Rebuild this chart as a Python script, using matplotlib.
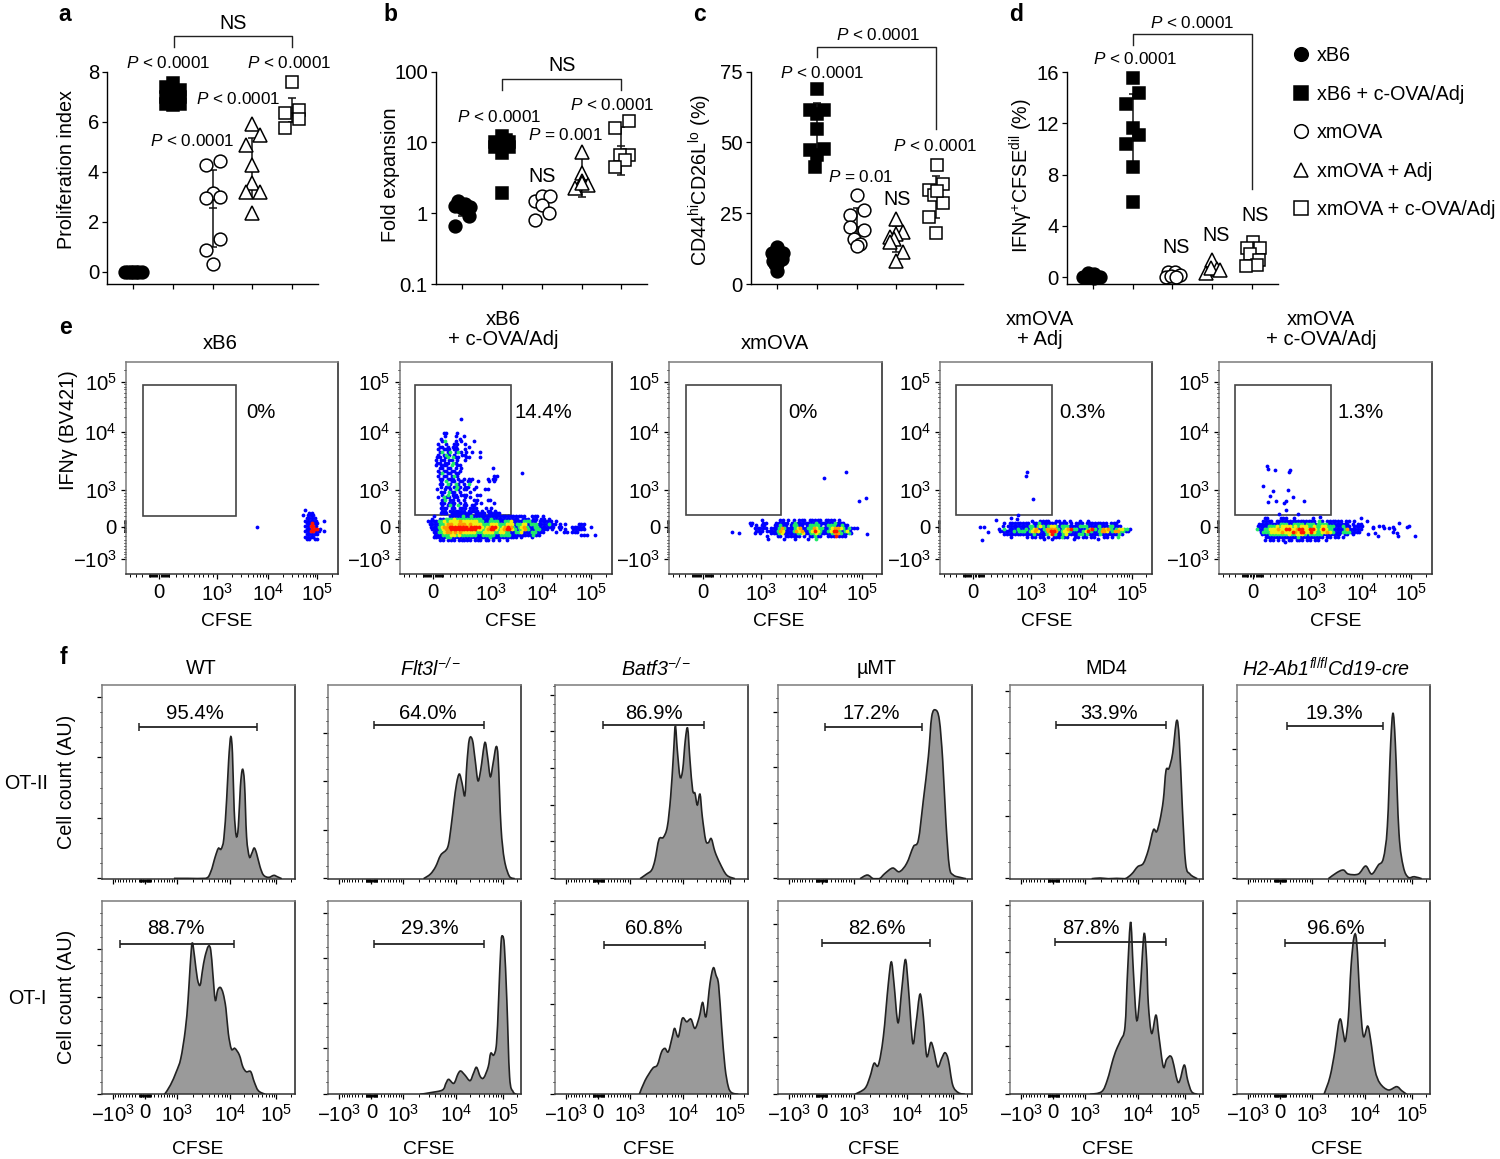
import numpy as np
import matplotlib
matplotlib.use('Agg')
import matplotlib.pyplot as plt
from matplotlib.lines import Line2D
from matplotlib.patches import Rectangle, PathPatch
from matplotlib.path import Path

plt.rcParams.update({
    'font.family': ['Liberation Sans', 'DejaVu Sans'],
    'mathtext.fontset': 'custom',
    'mathtext.rm': 'Liberation Sans',
    'mathtext.it': 'Liberation Sans:italic',
    'mathtext.bf': 'Liberation Sans:bold',
    'mathtext.default': 'regular',
    'font.size': 14.2,
})

W, H = 1500, 1159
FS = 14.2

# ---------- panels a-d: summary dot plots ----------
group_names = ['xB6', 'xB6 + c-OVA/Adj', 'xmOVA', 'xmOVA + Adj', 'xmOVA + c-OVA/Adj']
group_markers = ['o', 's', 'o', '^', 's']
group_filled = [True, True, False, False, False]

a_vals = [[0, 0, 0, 0, 0, 0, 0],
          [7.53, 7.37, 7.27, 7.0, 7.0, 7.07, 6.71, 6.71, 6.67],
          [4.43, 4.27, 3.13, 2.96, 3.0, 1.29, 0.87, 0.29],
          [5.91, 5.47, 5.07, 4.27, 3.56, 3.2, 3.2, 2.33],
          [7.6, 6.36, 6.45, 6.09, 5.73]]
a_off = [[-.21, -.13, -.07, 0, .07, .13, .21],
         [0, -.17, .17, -.17, .17, 0, -.17, .17, 0],
         [.18, -.17, 0, -.17, .18, .18, -.17, 0],
         [0, .18, -.17, 0, 0, -.17, .18, 0],
         [0, -.17, .17, .17, -.17]]
a_err = [None, None, (1.0, 2.53, 4.07), (2.93, 4.13, 5.33), (6.0, 6.35, 6.93)]

b_vals = [[1.47, 1.36, 1.27, 1.22, 1.18, 0.9, 0.67],
          [12.2, 10.3, 10.3, 8.5, 8.5, 7.2, 11, 1.95],
          [1.5, 1.73, 1.73, 1.31, 1.02, 0.79],
          [7.4, 3.72, 2.83, 2.27, 2.54, 2.68],
          [20.3, 16, 6.6, 6.6, 5.65, 4.5]]
b_off = [[-.1, .07, -.18, .19, 0, .18, -.17],
         [0, -.17, .17, -.17, .17, 0, .1, 0],
         [-.17, 0, .21, 0, .17, -.17],
         [0, 0, 0, -.17, .17, 0],
         [.18, -.17, .18, -.04, .08, -.17]]
b_err = [(0.9, 1.1, 1.3), None, None, (1.69, 2.83, 6.2), (3.5, 8.9, 16.4)]

c_vals = [[13, 11, 11, 10.6, 8.3, 8.9, 7.1, 7.1, 4.7],
          [68.9, 61.6, 61.6, 60.2, 54.9, 47.2, 47.8, 45.5, 41.3],
          [31.3, 26.2, 24.4, 19.1, 20.3, 15.9, 14.2, 13.6],
          [23, 18.3, 17.7, 16.5, 15.9, 14.8, 11.2, 8.3],
          [42.1, 35.4, 33.1, 31.3, 28.6, 23.8, 17.9, 32.8]]
c_off = [[0, -.14, .15, 0, -.1, .11, 0, -.06, 0],
         [0, -.18, .18, 0, 0, -.18, .18, 0, -.05],
         [0, .18, -.17, .18, -.18, -.08, .08, 0],
         [0, .17, 0, -.17, -.07, -.17, .17, 0],
         [.02, .18, -.17, -.05, .18, -.17, 0, .03]]
c_err = [None, (45.5, 54.5, 63.8), (14, 20, 27), (11.2, 14.8, 20.4), (23.4, 30.7, 38)]

d_vals = [[.31, .26, .05, .05, .05, -.08, 0],
          [15.5, 14.4, 13.5, 11.6, 11.1, 10.4, 8.6, 5.9],
          [.44, .44, .18, 0, .1, .05],
          [1.35, .62, .36, .7, .57],
          [2.78, 2.26, 2.26, 1.82, 1.35, .96, .88]]
d_off = [[-.11, .02, -.24, -.07, .18, .02, -.15],
         [0, .17, -.17, 0, .17, -.17, 0, 0],
         [-.11, .06, .18, -.17, -.03, .1],
         [0, .11, -.17, -.04, .19],
         [.01, -.14, .2, -.05, .18, .12, -.16]]
d_err = [None, (8.6, 11.9, 14.3), None, None, None]

a_ticks = [0, 2, 4, 6, 8]
b_ticks = [0.1, 1, 10, 100]
b_ticklabels = ['0.1', '1', '10', '100']
c_ticks = [0, 25, 50, 75]
d_ticks = [0, 4, 8, 12, 16]

# ---------- panel e: flow dot plots (density class per cell) ----------
e_names = ['xB6', 'xB6\n+ c-OVA/Adj', 'xmOVA', 'xmOVA\n+ Adj', 'xmOVA\n+ c-OVA/Adj']
e_pcts = ['0%', '14.4%', '0%', '0.3%', '1.3%']
e_x_tick_vals = [100, 274, 427, 575]
e_x_tick_labels = ['0', '10$^3$', '10$^4$', '10$^5$']
e_y_tick_vals = [44, 142, 252, 427, 577]
e_y_tick_labels = ['\u221210$^3$', '0', '10$^3$', '10$^4$', '10$^5$']
e_gates = [(53, 173, 332, 568), (47, 177, 334, 568), (49, 177, 335, 567),
           (47, 177, 335, 567), (47, 177, 335, 567)]

e1_rows = ["...b.......", "....bb.....", "..b.bbb....", "...bbbb....", "...bbbbb..b",
           "...bbrbb...", "...bbrrb...", "...bbrrrb..", "...bbrrbb.b", "...bbbbb...",
           "...bbbb....", "...bb.bb..."]
e1_origin = (515, 192)
e1_extra = [(394, 140)]

e2_cloud = ["....bb...b......", "....b...b..b....", "...b......b.....", "...bg...b.b....b",
            "..b..b..bb..b...", "..bb.b.bb....b..", "..b.bbb.bb..b...", "..bg.bg.bgb.b.b..b",
            "..b.bgb.b..bb...", ".bb.bg.gbb..bb...b", ".b.bb.bb.b..b...", ".bb.bb.gb.......",
            ".b.bbb.g.bb.....", "..bb.bb.b.b...........b", "..b.bb.bb.b.....",
            "..bg.bb.bb.......................b", "..b.bb.bgb.............bb",
            "..bb.bbb.b.b.bb.....b.bb", "...b.g.bb.bb.bb..b...b.b", "..bb.gb.gb.b.g..",
            "...b.bb.bgb.bb..b", ".b..b.b.gb.bb..b...bb", "...bb.gbb.b...b.",
            "...b.g.bb.bbb...bb", "..b.gbb.bb..b.b.", "...bg.bb.b.b...bb...bb",
            "...bb.bbb.b.b...b.b....b", "...b.bgb.g.bb.bb", "...bbb.bb.bbb.bbb...b.b",
            "...bb.bbbbbb.bbbb.b.bb.b", "...bbb.bbbbbbbb.bbbb.bbbbb"]
e2_cloud_origin = (100, 422)
e2_band = ["..b.....bbbbbgbbgbbbbbbbbbbbbbbbbbbbb..bbb.b",
           ".b..bbgggyggggggggggbbbgbbbbbbbbbb.bbb.bb.bb.b",
           "bbbbggygyyyyoyyyyyyggbbggggbbggybbbbgggbb.bbbbb.b",
           "bbbbggyooyyoooyoyyyygggyyygggyyybggyybgggbbbbgbb.b.b....bbb",
           ".bbbgyoorrrrrrrorrrrygyorrygyorogbgyogbbggbbbbbb.bb...bbbbb..b",
           ".bbbgyoorrrrrrrrrryygyorrygyorrygbgyogbbggbbb.b..b.b..bbbbb",
           "..bbggyooyoyoyyyyygggyyyyggyyggbbggybbbggbbb....b..bb.bbb",
           "..bbbgggyygyggggggbbgggggbbggggbbbbbbbbgbb...............bbb..b",
           "..bbbbbggbbbbbbbbbbbbbbgbbbbbbbbbb.b...b",
           "....bb.bbb.bbbbb.bbb.bb.b.b..b"]
e2_band_origin = (86, 174)
e2_extra = [(184, 464)]

e3_rows = ["......b......bb.b.b.bbb.bbbbb.bbbb.b",
           ".bb...bb...bbbbb.bgbbbbbbbgbbbbbbgbbb",
           "..b.b.bb...bbgbb.bggbb.bggggb.bgggbbgbb",
           "...bbbbb.bbbgogbbbgyobbggoyggbbgyooygbgbbb",
           "....bbb.bbbbgoybbbgoyobbgyrygbbgyrrgbgyb",
           "...b.b...bbbgybbbbbggybbggygbbbbgoogbbgb",
           "........b...bb.bbbbbb.b.bbgbb..bbbrbbb",
           "........b.....b...b....b..g"]
e3_origin = (228, 162)
e3_extra = [(463, 287), (527, 305), (568, 220), (587, 227), (590, 120), (189, 125), (209, 123)]

e4_rows = ["..............b..bbbb..bb.b.b...b..b..........b",
           "...b.bbbbbbbb.bbgbbbbbb.bbb.b.bbb.bbbbbbbb.bbb",
           "...b.bbbbbbbbggbgygbgyygbgggbbbbgggbbbbgbbbggbbb",
           ".b.g.bbbgbbgbgyobbgoooogbgyorggbbbgorgbgoyogbgyyggb",
           "..bbbbbgbgggbgyoybbgorrobgyygbbbbgyrgbbgooybgooggbb",
           "...bbbbbbbbbbbgbbbbgyrgbbgybbbbggbgbbbbgbbbbbbgb",
           "......b.....b.bb.bb.b.bbbgbb..bb.bb.bb...bb.b.g",
           "..................b..b.......b........b"]
e4_origin = (165, 160)
e4_extra = [(262, 307), (259, 295), (280, 225), (235, 177), (212, 167), (232, 165), (167, 163),
            (120, 141), (133, 141), (145, 125), (125, 103)]

e5_rows = ["...bb....bbb..b......b.................b",
           "..bbbb.bbbbbbbbbbbbbbb.gb.bbbbbb.bb.b....b",
           ".bbbbbbbbgggbbggggbgggbggggbbbbbbbb.b.bb",
           "bbbbgggygyyyygygyyyggyggyygggbbbgbb.bbbb",
           "gbbggyyyoyyrryyorryyrrygyryggbbbbgobbbbb",
           ".bgggyyyyoyyyroyrryyryggyyoygbbbgggbbbb",
           "..bbbgggggggyggyyygbgggggbbbbbbb.bb.b",
           "...bbbbbbbbbbbbgbbbbbbbbb.bb.bb.b",
           "...b.bb.b.b.bb.bbb.bb.bb..b",
           "..........b"]
e5_origin = (112, 167)
e5_extra = [(142, 325), (145, 314), (168, 312), (213, 312), (210, 307), (130, 265), (160, 250),
            (205, 252), (153, 233), (220, 230), (145, 215), (170, 219), (200, 219), (194, 212),
            (253, 219), (200, 191), (180, 180), (235, 181), (302, 171),
            (447, 120), (462, 142), (462, 137), (467, 122), (475, 115), (479, 144), (492, 144),
            (495, 137), (510, 139), (520, 142), (520, 127), (525, 135), (532, 122), (539, 154),
            (537, 115), (562, 141), (568, 143), (586, 115)]

cell_colors = {'b': '#0000ff', 'g': '#1fe86a', 'y': '#f2ee10', 'o': '#ff9a00', 'r': '#ff1200'}

# ---------- panel f: CFSE histograms ----------
f_titles = ['WT', 'Flt3l$^{-/-}$', 'Batf3$^{-/-}$', '\u00b5MT', 'MD4', 'H2-Ab1$^{\\mathit{fl/fl}}$Cd19-cre']
f_italic = [False, True, True, False, False, True]
f_x_tick_vals = [33, 130, 226, 385, 525]
f_x_tick_labels = ['\u221210$^3$', '0', '10$^3$', '10$^4$', '10$^5$']

wt2_x = [210, 250, 302, 317, 330, 339, 347, 355, 363, 369, 375, 380, 385, 391, 397, 403, 409, 415, 421, 429, 436, 443, 450, 460, 470, 485, 500, 510, 523]
wt2_y = [1, 1, 1, 21, 66, 91, 89, 121, 236, 356, 426, 376, 206, 128, 156, 276, 328, 286, 126, 66, 76, 92, 76, 36, 11, 4, 10, 6, 0]
wt1_x = [183, 200, 217, 230, 243, 251, 257, 263, 270, 278, 286, 293, 300, 310, 317, 323, 330, 337, 345, 353, 361, 368, 377, 387, 400, 410, 420, 433, 443, 455, 475]
wt1_y = [0, 28, 68, 108, 193, 283, 383, 455, 413, 348, 328, 373, 413, 445, 433, 363, 283, 313, 321, 303, 258, 183, 136, 138, 118, 83, 68, 68, 38, 11, 0]
fl2_x = [277, 297, 312, 327, 347, 357, 365, 373, 381, 389, 397, 403, 410, 419, 427, 435, 443, 455, 463, 471, 479, 488, 494, 502, 512, 527, 542]
fl2_y = [0, 14, 36, 71, 94, 156, 226, 286, 314, 286, 250, 346, 418, 416, 356, 294, 326, 408, 366, 306, 346, 396, 356, 156, 56, 6, 0]
fl1_x = [267, 297, 332, 342, 350, 365, 377, 385, 397, 412, 422, 431, 442, 452, 465, 472, 481, 489, 495, 502, 507, 512, 519, 527, 537, 547]
fl1_y = [0, 5, 13, 33, 45, 33, 61, 70, 58, 41, 63, 81, 53, 50, 83, 123, 118, 153, 283, 453, 475, 443, 283, 53, 8, 0]
ba2_x = [255, 275, 290, 300, 312, 325, 337, 347, 355, 361, 367, 375, 383, 391, 398, 405, 413, 420, 427, 435, 442, 452, 460, 469, 480, 495, 515, 540]
ba2_y = [0, 14, 26, 56, 118, 124, 156, 246, 366, 458, 386, 306, 326, 416, 451, 356, 266, 256, 221, 254, 186, 116, 108, 120, 81, 46, 11, 0]
ba1_x = [253, 270, 293, 307, 320, 330, 340, 352, 359, 370, 382, 395, 408, 420, 433, 443, 453, 465, 475, 483, 491, 500, 510, 520, 530, 550]
ba1_y = [0, 41, 78, 88, 128, 138, 128, 173, 198, 173, 228, 218, 226, 198, 233, 276, 233, 333, 380, 358, 328, 203, 83, 23, 5, 0]
mu2_x = [245, 267, 285, 303, 320, 343, 363, 385, 405, 420, 435, 450, 460, 472, 483, 493, 503, 513, 525, 545, 563]
mu2_y = [0, 11, 0, 0, 16, 32, 21, 46, 96, 116, 236, 366, 486, 506, 476, 356, 166, 36, 11, 4, 0]
mu1_x = [230, 260, 275, 287, 300, 315, 330, 339, 347, 359, 370, 381, 390, 403, 413, 425, 435, 445, 457, 465, 478, 490, 500, 510, 523, 540, 560]
mu1_y = [0, 18, 53, 93, 88, 173, 333, 398, 333, 215, 313, 405, 323, 155, 213, 301, 233, 115, 155, 138, 83, 108, 125, 103, 28, 5, 0]
md2_x = [245, 270, 295, 320, 345, 365, 383, 400, 415, 430, 440, 450, 460, 468, 477, 488, 500, 508, 517, 527, 540, 562]
md2_y = [0, 2, 0, 1, 0, 14, 36, 46, 86, 146, 141, 176, 236, 324, 331, 376, 474, 416, 216, 46, 14, 0]
md1_x = [240, 275, 292, 310, 322, 332, 345, 353, 362, 370, 380, 390, 402, 410, 415, 425, 438, 447, 460, 470, 485, 502, 510, 523, 533, 545, 562]
md1_y = [0, 8, 43, 108, 141, 163, 203, 373, 518, 373, 223, 303, 481, 403, 273, 183, 238, 173, 83, 105, 111, 41, 43, 88, 43, 8, 0]
h22_x = [275, 300, 320, 335, 365, 387, 405, 425, 440, 452, 462, 469, 476, 487, 500, 515, 533, 555]
h22_y = [0, 18, 26, 14, 14, 38, 14, 41, 61, 156, 406, 496, 406, 136, 36, 4, 6, 0]
h21_x = [262, 280, 295, 305, 312, 320, 326, 335, 343, 352, 360, 370, 380, 393, 402, 415, 430, 455, 480, 495, 510]
h21_y = [0, 53, 133, 208, 225, 183, 161, 233, 383, 473, 458, 283, 175, 205, 163, 73, 33, 13, 23, 11, 0]

f_curves = [[(wt2_x, wt2_y), (fl2_x, fl2_y), (ba2_x, ba2_y), (mu2_x, mu2_y), (md2_x, md2_y), (h22_x, h22_y)],
            [(wt1_x, wt1_y), (fl1_x, fl1_y), (ba1_x, ba1_y), (mu1_x, mu1_y), (md1_x, md1_y), (h21_x, h21_y)]]
f_pcts = [['95.4%', '64.0%', '86.9%', '17.2%', '33.9%', '19.3%'],
          ['88.7%', '29.3%', '60.8%', '82.6%', '87.8%', '96.6%']]
f_gate = [[(109, 452, 454, 270), (134, 454, 460, 289), (143, 448, 460, 297), (140, 430, 456, 278), (138, 468, 461, 296), (151, 440, 458, 292)],
          [(52, 385, 453, 215), (132, 454, 453, 294), (147, 450, 449, 295), (130, 455, 455, 295), (136, 468, 458, 244), (144, 446, 455, 298)]]
f_steps = [[181, 145, 110, 166, 187, 193], [145, 136, 135, 170, 142, 181]]
f_span = [561, 561, 580, 580, 580, 580]

TICK_FS = 14.6
P_FS = 12.3

fig = plt.figure(figsize=(W / 100, H / 100), dpi=100)


def axbox(l, t, r, b):
    return fig.add_axes([l / W, 1 - b / H, (r - l) / W, (b - t) / H])


def txt(x, y, s, **kw):
    kw.setdefault('ha', 'center')
    kw.setdefault('va', 'center')
    kw.setdefault('fontsize', FS)
    if kw.get('rotation') == 90:
        x += 2
    else:
        y += 1.5
    return fig.text(x / W, 1 - y / H, s, **kw)


def bracket(xs, ys):
    fig.add_artist(Line2D([x / W for x in xs], [1 - y / H for y in ys],
                          color='#222222', lw=1.0, transform=fig.transFigure))


def dotpanel(box, xlim, ylim, vals, offs, errs, yticks, ylabels=None, log=False):
    ax = axbox(*box)
    if log:
        ax.set_yscale('log')
    for i, (v, o) in enumerate(zip(vals, offs)):
        e = errs[i]
        if e is not None:
            lo, m, hi = e
            ax.errorbar([i], [m], yerr=[[m - lo], [hi - m]], color='#111111', lw=1.1,
                        capsize=3.2, capthick=1.1, zorder=2)
            ax.plot([i], [m], marker='_', ms=6.4, mew=1.1, color='#111111', zorder=2)
        face = 'black' if group_filled[i] else 'white'
        ms = {'o': 9.2, 's': 8.6, '^': 9.4}[group_markers[i]]
        ax.plot(np.array(o) + i, v, ls='none', marker=group_markers[i], ms=ms,
                mfc=face, mec='black', mew=1.1, zorder=3, clip_on=False)
    ax.set_xlim(*xlim)
    ax.set_ylim(*ylim)
    ax.set_xticks(range(5))
    ax.set_xticklabels([])
    ax.set_yticks(yticks)
    if ylabels:
        ax.set_yticklabels(ylabels)
    ax.minorticks_off()
    ax.tick_params(axis='both', length=3.4, width=0.9, pad=2.5, labelsize=TICK_FS)
    ax.spines[['top', 'right']].set_visible(False)
    for s in ('left', 'bottom'):
        ax.spines[s].set_linewidth(1.0)
    ax.patch.set_alpha(0)
    return ax


dotpanel((107.3, 71.7, 318, 284), (-.655, 4.65), (-.49, 8), a_vals, a_off, a_err, a_ticks)
dotpanel((436, 71.7, 647.3, 284), (-.655, 4.65), (.1, 100), b_vals, b_off, b_err, b_ticks, b_ticklabels, log=True)
dotpanel((750.7, 71.7, 962.7, 284), (-.67, 4.67), (0, 75), c_vals, c_off, c_err, c_ticks)
dotpanel((1066.7, 72, 1278, 284), (-.655, 4.65), (-.52, 16), d_vals, d_off, d_err, d_ticks)

for x, y, s in [(65, 13, 'a'), (390, 13, 'b'), (699, 13, 'c'), (1016, 13, 'd'), (65, 326, 'e'), (63, 656, 'f')]:
    txt(x, y, s, fontweight='bold', fontsize=16.5)
for x, y, s in [(233, 22, 'NS'), (168, 61, '$\\mathit{P}$ < 0.0001'), (289, 62, '$\\mathit{P}$ < 0.0001'),
                (238, 98, '$\\mathit{P}$ < 0.0001'), (192, 139, '$\\mathit{P}$ < 0.0001'),
                (562, 64, 'NS'), (499, 116, '$\\mathit{P}$ < 0.0001'), (612, 103, '$\\mathit{P}$ < 0.0001'),
                (565, 134, '$\\mathit{P}$ = 0.001'), (542, 175, 'NS'),
                (878, 34, '$\\mathit{P}$ < 0.0001'), (822, 71, '$\\mathit{P}$ < 0.0001'),
                (861, 175, '$\\mathit{P}$ = 0.01'), (897, 198, 'NS'), (935, 144, '$\\mathit{P}$ < 0.0001'),
                (1192, 22, '$\\mathit{P}$ < 0.0001'), (1135, 58, '$\\mathit{P}$ < 0.0001'),
                (1176, 246, 'NS'), (1216, 234, 'NS'), (1255, 214, 'NS')]:
    txt(x, y, s, fontsize=FS if s == 'NS' else P_FS)
bracket([173.5, 173.5, 292, 292], [47, 36, 36, 47])
bracket([502, 502, 621, 621], [90, 79, 79, 90])
bracket([817, 817, 936, 936], [57, 47, 47, 129])
bracket([1133, 1133, 1252, 1252], [45, 34, 34, 189])
txt(64, 170, 'Proliferation index', rotation=90)
txt(388, 175, 'Fold expansion', rotation=90)
txt(698, 180, 'CD44$^{hi}$CD26L$^{lo}$ (%)', rotation=90)
txt(1019, 176, 'IFN\u03b3$^{+}$CFSE$^{dil}$ (%)', rotation=90)

handles = [Line2D([], [], ls='none', marker=m, ms={'o': 9.8, 's': 9.6, '^': 10}[m],
                  mfc='black' if f else 'white', mec='black', mew=1.1)
           for m, f in zip(group_markers, group_filled)]
fig.legend(handles, group_names, loc='upper left', bbox_to_anchor=(1291 / W, 1 - 46 / H), frameon=False,
           fontsize=14.2, labelspacing=0.99, handlelength=1.0, handletextpad=0.3, borderpad=0, borderaxespad=0)


# ---------- helpers for flow axes ----------
def log_minor(p0, p1):
    return [p0 + (p1 - p0) * np.log10(k) for k in range(2, 10)]


def biex_minor(zero, neg_span, pos_span):
    frac = [k / 100 for k in range(1, 10)] + [k / 10 for k in range(1, 10)]
    ticks = [zero + pos_span * f ** .75 for f in frac]
    ticks += [zero - neg_span * f ** .75 for f in frac]
    return ticks


def box_spines(ax):
    for s, c in [('left', '#7a7a7a'), ('top', '#7a7a7a'), ('right', '#222222'), ('bottom', '#333333')]:
        ax.spines[s].set_color(c)
        ax.spines[s].set_linewidth(1.1)


def cells(rows, origin, step=8):
    out = {k: ([], []) for k in cell_colors}
    for j, row in enumerate(rows):
        shift = step / 2 if j % 2 else 0
        for i, c in enumerate(row):
            if c in out:
                out[c][0].append(origin[0] + step * i + shift)
                out[c][1].append(origin[1] - step * j)
    return out


def curve_paths(x, y):
    """Rounded rendering through the read points (Catmull-Rom as cubic Bezier segments)."""
    p = np.column_stack([x, y]).astype(float)
    verts, codes = [p[0]], [Path.MOVETO]
    n = len(p)
    for i in range(n - 1):
        a = p[max(i - 1, 0)]
        b = p[i]
        c = p[i + 1]
        d = p[min(i + 2, n - 1)]
        c1 = b + (c - a) / 6
        c2 = c - (d - b) / 6
        c1[1] = max(c1[1], 0)
        c2[1] = max(c2[1], 0)
        verts += [c1, c2, c]
        codes += [Path.CURVE4] * 3
    line = Path(verts, codes)
    fill = Path(verts + [(p[-1, 0], 0), (p[0, 0], 0), p[0]],
                codes + [Path.LINETO, Path.LINETO, Path.CLOSEPOLY])
    return line, fill


# ---------- panel e ----------
e_boxes = [(125.8, 338), (399.6, 611.7), (669.3, 882.3), (940, 1152.3), (1219.3, 1431.7)]
e_data = [[(e1_rows, e1_origin)], [(e2_cloud, e2_cloud_origin), (e2_band, e2_band_origin)],
          [(e3_rows, e3_origin)], [(e4_rows, e4_origin)], [(e5_rows, e5_origin)]]
e_extra = [e1_extra, e2_extra, e3_extra, e4_extra, e5_extra]
e_label_xy = [(261, 411), (543, 411), (803, 411), (1082, 411), (1361, 411)]
e_title_xy = [(220, 342), (503, 328), (775, 342), (1040, 328), (1321, 328)]
e_cfse_x = [227, 511, 779, 1047, 1336]

for i, (l, r) in enumerate(e_boxes):
    ax = axbox(l, 361.7, r, 574)
    ax.set_xlim(0, 637)
    ax.set_ylim(0, 637)
    gx0, gy0, gx1, gy1 = e_gates[i]
    ax.add_patch(Rectangle((gx0, gy0), gx1 - gx0, gy1 - gy0, fill=False, ec='#444444', lw=1.2, zorder=2))
    ex = np.array(e_extra[i])
    for key in cell_colors:
        xs, ys = [], []
        for rows, org in e_data[i]:
            c = cells(rows, org)
            xs += c[key][0]
            ys += c[key][1]
        if key == 'b':
            xs += list(ex[:, 0])
            ys += list(ex[:, 1])
        ax.scatter(xs, ys, marker='o', s=7.5, c=cell_colors[key], linewidths=0,
                   zorder=3 + list(cell_colors).index(key))
    ax.set_xticks(e_x_tick_vals)
    ax.set_xticklabels(e_x_tick_labels)
    ax.set_yticks(e_y_tick_vals)
    ax.set_yticklabels(e_y_tick_labels)
    xm = biex_minor(100, 174, 174) + log_minor(274, 427) + log_minor(427, 575) + [575 + 148 * .301]
    ym = biex_minor(142, 98, 110) + log_minor(252, 427) + log_minor(427, 577) + [612]
    ax.set_xticks([v for v in xm if 0 < v < 637], minor=True)
    ax.set_yticks([v for v in ym if 0 < v < 637], minor=True)
    ax.tick_params(which='major', length=3.6, width=0.9, pad=3, labelsize=TICK_FS)
    ax.tick_params(which='minor', length=1.8, width=0.7)
    box_spines(ax)
    txt(*e_label_xy[i], e_pcts[i], fontsize=14.6)
    txt(*e_title_xy[i], e_names[i], linespacing=1.1, fontsize=14.6)
    txt(e_cfse_x[i], 620, 'CFSE', fontsize=13.9)
txt(67, 430, 'IFN\u03b3 (BV421)', rotation=90)

# ---------- panel f ----------
f_boxes = [(101.6, 294.8), (328.2, 521.3), (555, 748.3), (778.3, 971.7), (1010, 1203.3), (1236.7, 1430)]
f_rows = [(685, 878.7), (901, 1094.3)]
f_title_x = [201, 431, 656, 877, 1106, 1326]
f_cfse_x = [198, 429, 649, 874, 1108, 1337]

for row, (t, b) in enumerate(f_rows):
    for i, (l, r) in enumerate(f_boxes):
        ax = axbox(l, t, r, b)
        k = f_span[i] / 580
        ax.set_xlim(0, f_span[i])
        ax.set_ylim(0, 581)
        cx, cy = f_curves[row][i]
        line_path, fill_path = curve_paths(cx, cy)
        ax.add_patch(PathPatch(fill_path, fc='#9a9a9a', ec='none', zorder=2))
        ax.add_patch(PathPatch(line_path, fc='none', ec='#222222', lw=1.2, zorder=3))
        x0, x1, gy, lx = f_gate[row][i]
        ax.errorbar([(x0 + x1) / 2], [gy], xerr=[(x1 - x0) / 2], color='#222222', lw=1.3,
                    capsize=2.6, capthick=1.1, zorder=4)
        ax.text(lx, 497, f_pcts[row][i], ha='center', va='center', fontsize=14.6, zorder=5)
        ax.set_xticks([v * k for v in f_x_tick_vals])
        ax.set_xticklabels(f_x_tick_labels if row == 1 else [])
        xm = biex_minor(130, 97, 96) + log_minor(226, 385) + log_minor(385, 525) + [525 + 140 * .301]
        ax.set_xticks([v * k for v in xm if 0 < v * k < f_span[i]], minor=True)
        step = f_steps[row][i]
        ax.set_yticks(np.arange(2, 581, step))
        ax.set_yticklabels([])
        ax.set_yticks(np.arange(2, 581, step / 4), minor=True)
        ax.tick_params(which='major', length=3.6, width=0.9, pad=3, labelsize=TICK_FS)
        ax.tick_params(which='minor', length=1.8, width=0.7)
        box_spines(ax)
        if row == 1:
            txt(f_cfse_x[i], 1148, 'CFSE', fontsize=13.9)
        if row == 0:
            txt(f_title_x[i], 667, f_titles[i], style='italic' if f_italic[i] else 'normal')

for y, s, x in [(782, 'OT-II', 26), (997, 'OT-I', 27.5)]:
    txt(x, y, s)
    txt(65, y, 'Cell count (AU)', rotation=90)

fig.savefig('out.png', dpi=100)
